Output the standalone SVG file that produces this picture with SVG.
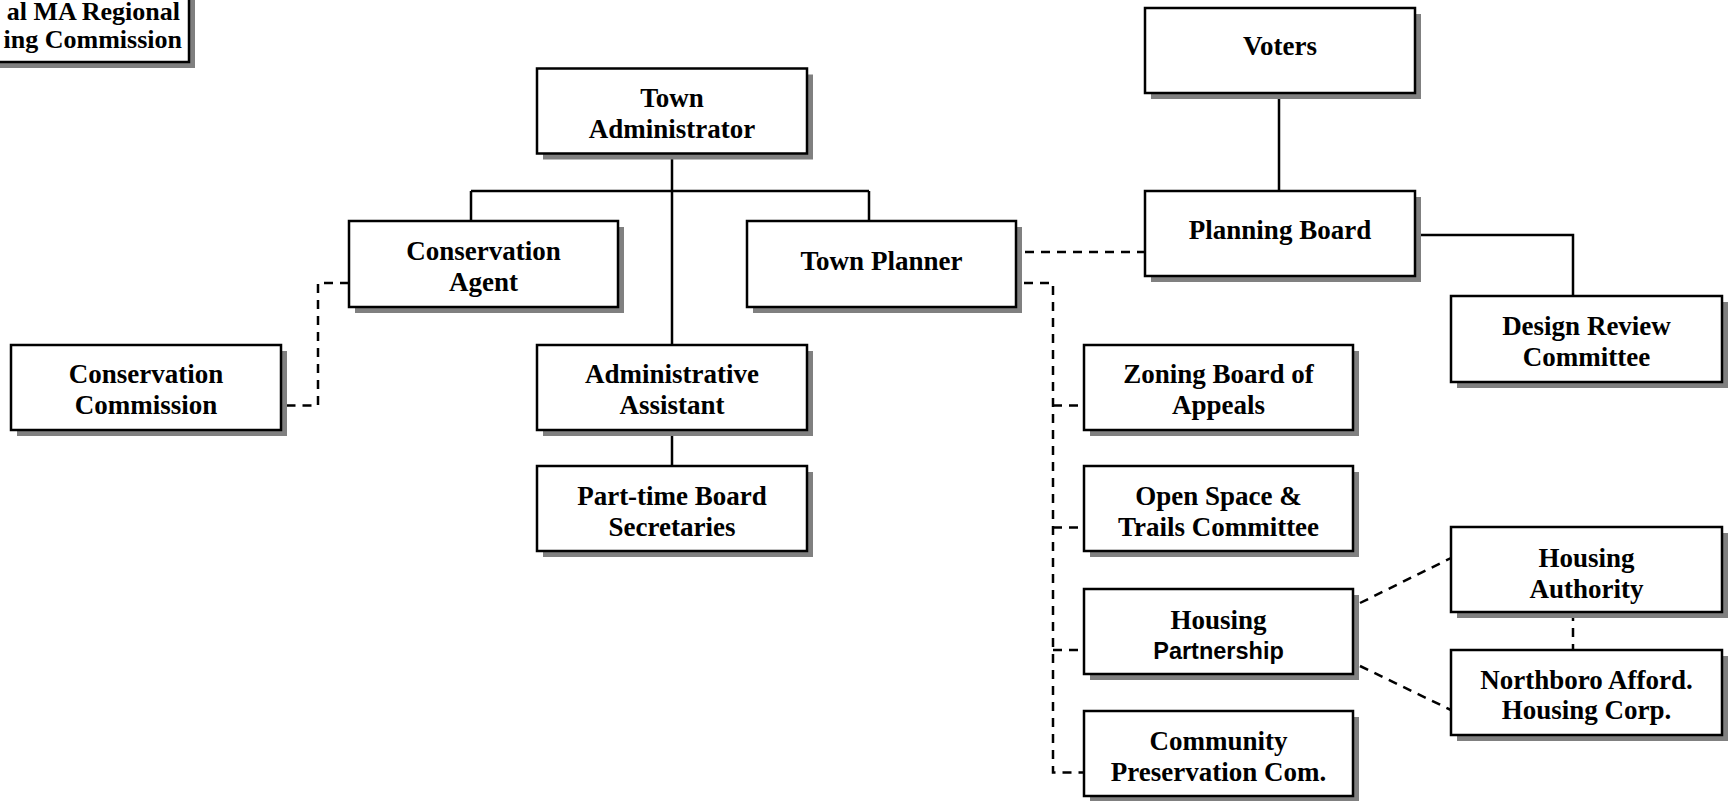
<svg xmlns="http://www.w3.org/2000/svg" width="1733" height="801" viewBox="0 0 1733 801">
<style>
.sh{fill:#808080;stroke:none}
.bx{fill:#fff;stroke:#000;stroke-width:2.5}
.t{font-family:"Liberation Serif","Times New Roman",serif;font-weight:bold;font-size:27px;fill:#000;text-anchor:middle}
.s{font-family:"Liberation Sans",Arial,sans-serif;font-weight:bold;font-size:23.5px;fill:#000;text-anchor:middle}
.ln{fill:none;stroke:#000;stroke-width:2.5}
.dl{fill:none;stroke:#000;stroke-width:2.5;stroke-dasharray:9 7}
</style>
<rect width="1733" height="801" fill="#fff"/>
<g id="connectors">
<path class="ln" d="M672 153.5V345M471 191H869M471 191V221M869 191V221M672 430V466M1279 93V191M1415 235H1573V296"/>
<path class="dl" d="M349 283H318V405.5H281"/>
<path class="dl" d="M1025 252H1145"/>
<path class="dl" d="M1024 283H1053V772.5H1084M1053 405.5H1084M1053 527.5H1084M1053 650H1084"/>
<path class="dl" d="M1360 603L1451 558M1360 666L1451 710M1573 612V650"/>
</g>
<g id="cmrpc">
<rect class="sh" x="-76" y="-24" width="271" height="92"/>
<rect class="bx" x="-82" y="-30" width="271" height="92"/>
<text class="t" x="180" y="19.5" style="text-anchor:end;font-size:26px">al MA Regional</text>
<text class="t" x="182" y="47.5" style="text-anchor:end;font-size:26px">ing Commission</text>
</g>
<g id="voters">
<rect class="sh" x="1151" y="14" width="270" height="85"/>
<rect class="bx" x="1145" y="8" width="270" height="85"/>
<text class="t" x="1280" y="55">Voters</text>
</g>
<g id="planning-board">
<rect class="sh" x="1151" y="197" width="270" height="85"/>
<rect class="bx" x="1145" y="191" width="270" height="85"/>
<text class="t" x="1280" y="239">Planning Board</text>
</g>
<g id="design-review">
<rect class="sh" x="1457" y="302" width="271" height="86"/>
<rect class="bx" x="1451" y="296" width="271" height="86"/>
<text class="t" x="1586.5" y="335">Design Review</text>
<text class="t" x="1586.5" y="366">Committee</text>
</g>
<g id="town-administrator">
<rect class="sh" x="543" y="74.5" width="270" height="85"/>
<rect class="bx" x="537" y="68.5" width="270" height="85"/>
<text class="t" x="672" y="107">Town</text>
<text class="t" x="672" y="138">Administrator</text>
</g>
<g id="conservation-agent">
<rect class="sh" x="355" y="227" width="269" height="86"/>
<rect class="bx" x="349" y="221" width="269" height="86"/>
<text class="t" x="483.5" y="259.5">Conservation</text>
<text class="t" x="483.5" y="291">Agent</text>
</g>
<g id="town-planner">
<rect class="sh" x="753" y="227" width="269" height="86"/>
<rect class="bx" x="747" y="221" width="269" height="86"/>
<text class="t" x="881.5" y="270">Town Planner</text>
</g>
<g id="administrative-assistant">
<rect class="sh" x="543" y="351" width="270" height="85"/>
<rect class="bx" x="537" y="345" width="270" height="85"/>
<text class="t" x="672" y="383">Administrative</text>
<text class="t" x="672" y="414">Assistant</text>
</g>
<g id="part-time-secretaries">
<rect class="sh" x="543" y="472" width="270" height="85"/>
<rect class="bx" x="537" y="466" width="270" height="85"/>
<text class="t" x="672" y="505">Part-time Board</text>
<text class="t" x="672" y="536">Secretaries</text>
</g>
<g id="conservation-commission">
<rect class="sh" x="17" y="351" width="270" height="85"/>
<rect class="bx" x="11" y="345" width="270" height="85"/>
<text class="t" x="146" y="383">Conservation</text>
<text class="t" x="146" y="414">Commission</text>
</g>
<g id="zoning-board">
<rect class="sh" x="1090" y="351" width="269" height="85"/>
<rect class="bx" x="1084" y="345" width="269" height="85"/>
<text class="t" x="1218.5" y="383">Zoning Board of</text>
<text class="t" x="1218.5" y="414">Appeals</text>
</g>
<g id="open-space">
<rect class="sh" x="1090" y="472" width="269" height="85"/>
<rect class="bx" x="1084" y="466" width="269" height="85"/>
<text class="t" x="1218.5" y="505">Open Space &amp;</text>
<text class="t" x="1218.5" y="536">Trails Committee</text>
</g>
<g id="housing-partnership">
<rect class="sh" x="1090" y="595" width="269" height="85"/>
<rect class="bx" x="1084" y="589" width="269" height="85"/>
<text class="t" x="1218.5" y="629">Housing</text>
<text class="s" x="1218.5" y="659">Partnership</text>
</g>
<g id="community-preservation">
<rect class="sh" x="1090" y="717" width="269" height="85"/>
<rect class="bx" x="1084" y="711" width="269" height="85"/>
<text class="t" x="1218.5" y="750">Community</text>
<text class="t" x="1218.5" y="781">Preservation Com.</text>
</g>
<g id="housing-authority">
<rect class="sh" x="1457" y="533" width="271" height="85"/>
<rect class="bx" x="1451" y="527" width="271" height="85"/>
<text class="t" x="1586.5" y="567">Housing</text>
<text class="t" x="1586.5" y="598">Authority</text>
</g>
<g id="northboro-housing-corp">
<rect class="sh" x="1457" y="656" width="271" height="85"/>
<rect class="bx" x="1451" y="650" width="271" height="85"/>
<text class="t" x="1586.5" y="689">Northboro Afford.</text>
<text class="t" x="1586.5" y="719">Housing Corp.</text>
</g>
</svg>
